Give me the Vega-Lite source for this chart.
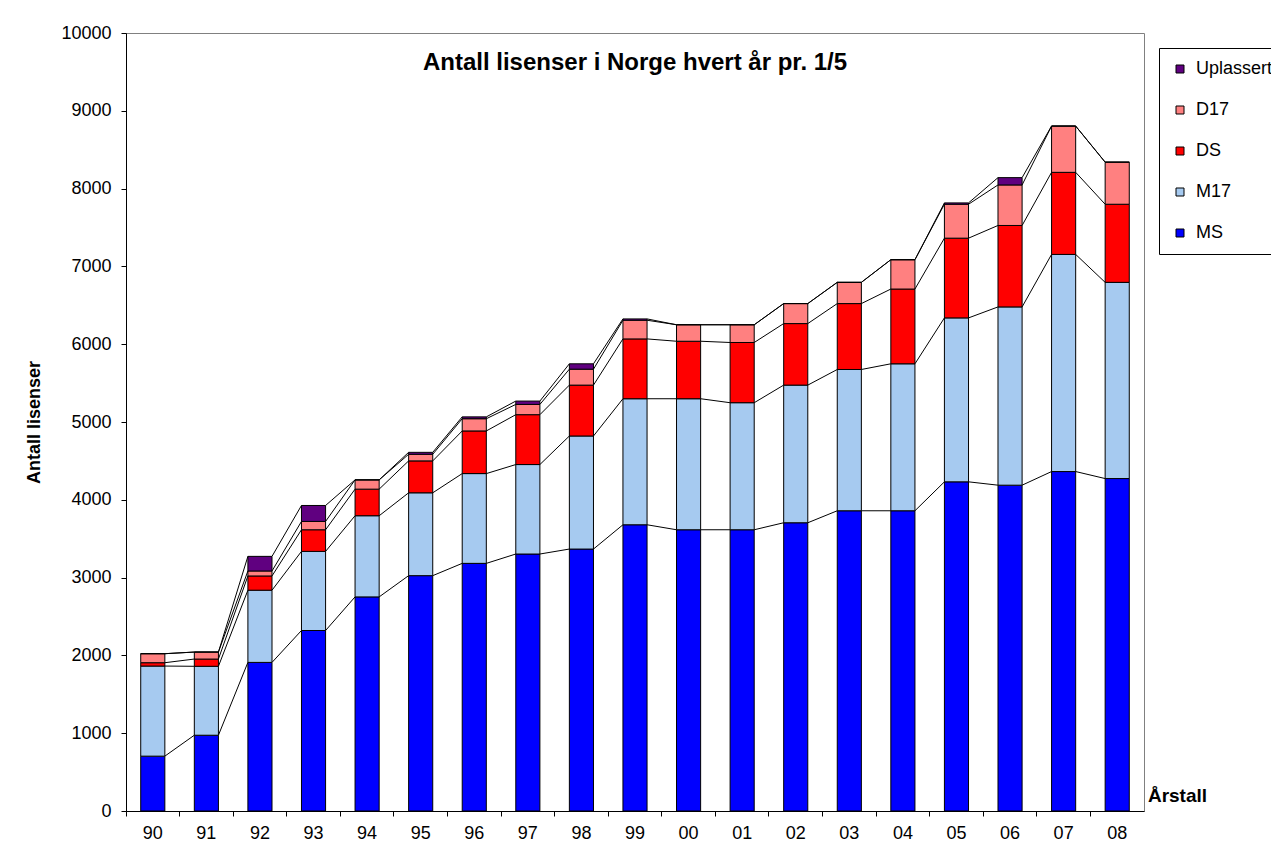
{
  "$schema": "https://vega.github.io/schema/vega-lite/v6.json",
  "width": 1018,
  "height": 778,
  "autosize": "none",
  "padding": {"left": 126, "top": 33, "right": 127, "bottom": 43},
  "background": "white",
  "config": {
    "font": "Liberation Sans",
    "view": {"stroke": "#808080", "strokeWidth": 1},
    "axis": {"domainColor": "black", "tickColor": "black", "labelColor": "black", "titleColor": "black", "labelFont": "Liberation Sans", "titleFont": "Liberation Sans", "grid": false, "zindex": 1, "domainWidth": 1, "tickWidth": 1},
    "legend": {"labelFont": "Liberation Sans", "labelColor": "black"}
  },
  "title": {"text": "Antall lisenser i Norge hvert år pr. 1/5", "fontSize": 24, "fontWeight": "bold", "font": "Liberation Sans", "anchor": "middle", "baseline": "middle", "offset": -63, "color": "black"},
  "data": {"values": [
    {"year": 1990, "series": "MS", "value": 705}, {"year": 1990, "series": "M17", "value": 1158}, {"year": 1990, "series": "DS", "value": 43}, {"year": 1990, "series": "D17", "value": 116}, {"year": 1990, "series": "Uplassert", "value": 0},
    {"year": 1991, "series": "MS", "value": 974}, {"year": 1991, "series": "M17", "value": 886}, {"year": 1991, "series": "DS", "value": 93}, {"year": 1991, "series": "D17", "value": 90}, {"year": 1991, "series": "Uplassert", "value": 0},
    {"year": 1992, "series": "MS", "value": 1910}, {"year": 1992, "series": "M17", "value": 928}, {"year": 1992, "series": "DS", "value": 183}, {"year": 1992, "series": "D17", "value": 64}, {"year": 1992, "series": "Uplassert", "value": 188},
    {"year": 1993, "series": "MS", "value": 2320}, {"year": 1993, "series": "M17", "value": 1017}, {"year": 1993, "series": "DS", "value": 278}, {"year": 1993, "series": "D17", "value": 107}, {"year": 1993, "series": "Uplassert", "value": 205},
    {"year": 1994, "series": "MS", "value": 2752}, {"year": 1994, "series": "M17", "value": 1043}, {"year": 1994, "series": "DS", "value": 342}, {"year": 1994, "series": "D17", "value": 119}, {"year": 1994, "series": "Uplassert", "value": 0},
    {"year": 1995, "series": "MS", "value": 3025}, {"year": 1995, "series": "M17", "value": 1065}, {"year": 1995, "series": "DS", "value": 410}, {"year": 1995, "series": "D17", "value": 85}, {"year": 1995, "series": "Uplassert", "value": 25},
    {"year": 1996, "series": "MS", "value": 3183}, {"year": 1996, "series": "M17", "value": 1154}, {"year": 1996, "series": "DS", "value": 548}, {"year": 1996, "series": "D17", "value": 157}, {"year": 1996, "series": "Uplassert", "value": 24},
    {"year": 1997, "series": "MS", "value": 3303}, {"year": 1997, "series": "M17", "value": 1150}, {"year": 1997, "series": "DS", "value": 641}, {"year": 1997, "series": "D17", "value": 132}, {"year": 1997, "series": "Uplassert", "value": 43},
    {"year": 1998, "series": "MS", "value": 3367}, {"year": 1998, "series": "M17", "value": 1453}, {"year": 1998, "series": "DS", "value": 654}, {"year": 1998, "series": "D17", "value": 205}, {"year": 1998, "series": "Uplassert", "value": 69},
    {"year": 1999, "series": "MS", "value": 3679}, {"year": 1999, "series": "M17", "value": 1620}, {"year": 1999, "series": "DS", "value": 769}, {"year": 1999, "series": "D17", "value": 240}, {"year": 1999, "series": "Uplassert", "value": 17},
    {"year": 2000, "series": "MS", "value": 3615}, {"year": 2000, "series": "M17", "value": 1684}, {"year": 2000, "series": "DS", "value": 739}, {"year": 2000, "series": "D17", "value": 212}, {"year": 2000, "series": "Uplassert", "value": 0},
    {"year": 2001, "series": "MS", "value": 3615}, {"year": 2001, "series": "M17", "value": 1633}, {"year": 2001, "series": "DS", "value": 774}, {"year": 2001, "series": "D17", "value": 228}, {"year": 2001, "series": "Uplassert", "value": 0},
    {"year": 2002, "series": "MS", "value": 3705}, {"year": 2002, "series": "M17", "value": 1769}, {"year": 2002, "series": "DS", "value": 791}, {"year": 2002, "series": "D17", "value": 257}, {"year": 2002, "series": "Uplassert", "value": 0},
    {"year": 2003, "series": "MS", "value": 3859}, {"year": 2003, "series": "M17", "value": 1816}, {"year": 2003, "series": "DS", "value": 847}, {"year": 2003, "series": "D17", "value": 273}, {"year": 2003, "series": "Uplassert", "value": 0},
    {"year": 2004, "series": "MS", "value": 3859}, {"year": 2004, "series": "M17", "value": 1889}, {"year": 2004, "series": "DS", "value": 961}, {"year": 2004, "series": "D17", "value": 377}, {"year": 2004, "series": "Uplassert", "value": 0},
    {"year": 2005, "series": "MS", "value": 4231}, {"year": 2005, "series": "M17", "value": 2107}, {"year": 2005, "series": "DS", "value": 1025}, {"year": 2005, "series": "D17", "value": 436}, {"year": 2005, "series": "Uplassert", "value": 17},
    {"year": 2006, "series": "MS", "value": 4188}, {"year": 2006, "series": "M17", "value": 2291}, {"year": 2006, "series": "DS", "value": 1047}, {"year": 2006, "series": "D17", "value": 521}, {"year": 2006, "series": "Uplassert", "value": 94},
    {"year": 2007, "series": "MS", "value": 4363}, {"year": 2007, "series": "M17", "value": 2791}, {"year": 2007, "series": "DS", "value": 1055}, {"year": 2007, "series": "D17", "value": 595}, {"year": 2007, "series": "Uplassert", "value": 0},
    {"year": 2008, "series": "MS", "value": 4273}, {"year": 2008, "series": "M17", "value": 2522}, {"year": 2008, "series": "DS", "value": 1004}, {"year": 2008, "series": "D17", "value": 541}, {"year": 2008, "series": "Uplassert", "value": 0}
  ]},
  "transform": [
    {"calculate": "indexof(['MS','M17','DS','D17','Uplassert'], datum.series)", "as": "ord"}
  ],
  "layer": [
    {
      "mark": {"type": "bar", "width": {"band": 0.45}, "stroke": "black", "strokeWidth": 1},
      "encoding": {
        "x": {"field": "year", "type": "ordinal", "scale": {"paddingInner": 0, "paddingOuter": 0},
          "axis": {"title": "Årstall", "titleX": 1051, "titleY": -16, "titleAlign": "center", "titleBaseline": "middle", "titleFontSize": 19, "titleFontWeight": "bold", "labelExpr": "substring(datum.label, 2)", "labelAngle": 0, "labelFontSize": 18, "labelPadding": 8, "tickSize": 5, "bandPosition": 0, "labelBaseline": "top"}},
        "y": {"field": "value", "type": "quantitative", "stack": "zero", "scale": {"domain": [0, 10000], "nice": false},
          "axis": {"title": "Antall lisenser", "values": [0, 1000, 2000, 3000, 4000, 5000, 6000, 7000, 8000, 9000, 10000], "format": "d", "labelFontSize": 18, "labelPadding": 10, "tickSize": 5, "labelFlush": false, "labelOverlap": false, "titleFontSize": 18, "titleFontWeight": "bold", "titleX": -92, "titleY": 389, "titleAngle": 270, "titleAlign": "center", "titleBaseline": "middle"}},
        "color": {"field": "series", "type": "nominal",
          "scale": {"domain": ["Uplassert", "D17", "DS", "M17", "MS"], "range": ["#600080", "#FF8080", "#FF0000", "#A6CAF0", "#0000FF"]},
          "legend": {"title": null, "orient": "none", "legendX": 1033, "legendY": 15, "strokeColor": "black", "fillColor": "white", "padding": 12, "rowPadding": 23, "symbolType": "square", "symbolSize": 64, "symbolStrokeColor": "black", "symbolStrokeWidth": 1, "symbolOpacity": 1, "labelFontSize": 18, "labelOffset": 7}},
        "order": {"field": "ord", "type": "quantitative"}
      }
    },
    {
      "transform": [
        {"stack": "value", "groupby": ["year"], "sort": [{"field": "ord", "order": "ascending"}], "as": ["y0", "y1"]},
        {"window": [{"op": "lead", "field": "y1", "as": "ny"}, {"op": "lead", "field": "year", "as": "nyear"}], "groupby": ["series"], "sort": [{"field": "year", "order": "ascending"}]},
        {"filter": "datum.nyear != null"}
      ],
      "mark": {"type": "rule", "color": "black", "strokeWidth": 1},
      "encoding": {
        "x": {"field": "year", "type": "ordinal", "bandPosition": 0.725, "title": "Årstall"},
        "x2": {"field": "nyear", "bandPosition": 0.275},
        "y": {"field": "y1", "type": "quantitative", "title": "Antall lisenser"},
        "y2": {"field": "ny"}
      }
    }
  ]
}
